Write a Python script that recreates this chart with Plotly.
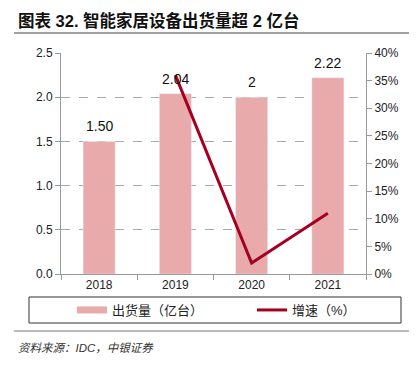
import plotly.graph_objects as go

years = ["2018", "2019", "2020", "2021"]
shipments = [1.50, 2.04, 2.00, 2.22]
shipment_labels = ["1.50", "2.04", "2", "2.22"]
growth = [None, 0.36, 0.02, 0.11]

title_text = "图表 32. 智能家居设备出货量超 2 亿台"
source_text = "资料来源：IDC，中银证券"

BAR_COLOR = "#E8AAAA"
LINE_COLOR = "#A50021"
FONT = "Liberation Sans, Arial, Noto Sans CJK SC, sans-serif"

# page has an 8px body margin; reference coords -> paper coords
PL, PR, PT, PB = 61, 366, 53, 274
def px(X):
    return (X - PL) / (PR - PL)
def py(Y):
    return (PB - Y) / (PB - PT)

fig = go.Figure()
fig.add_trace(go.Bar(
    x=years, y=shipments, marker_color=BAR_COLOR, width=0.42,
    showlegend=False, yaxis="y"))
fig.add_trace(go.Scatter(
    x=years, y=growth, mode="lines", line=dict(color=LINE_COLOR, width=3),
    showlegend=False, yaxis="y2"))
# legend entries
fig.add_trace(go.Scatter(x=[None], y=[None], mode="lines", name="出货量（亿台）",
                         line=dict(color=BAR_COLOR, width=7), legend="legend"))
fig.add_trace(go.Scatter(x=[None], y=[None], mode="lines", name="增速（%）",
                         line=dict(color=LINE_COLOR, width=3), legend="legend2"))

leg_common = dict(orientation="h", xanchor="left", yanchor="middle",
                  font=dict(size=13, color="#222"), bgcolor="rgba(0,0,0,0)",
                  borderwidth=0)

# category index positions for the value labels
value_labels = [
    dict(x=i, y=v, xref="x", yref="y", text=lab, showarrow=False,
         xanchor="center", yanchor="bottom", yshift=5,
         font=dict(size=14, color="#111"))
    for i, (v, lab) in enumerate(zip(shipments, shipment_labels))
]

fig.update_layout(
    width=409, height=361,
    margin=dict(l=PL - 8, r=409 - (PR - 8), t=PT - 8, b=361 - (PB - 8)),
    paper_bgcolor="white", plot_bgcolor="white",
    font=dict(family=FONT, size=12, color="#222"),
    xaxis=dict(type="category", range=[-0.5, len(years) - 0.5], autorange=False,
               showline=True, linecolor="#999", linewidth=1,
               ticks="outside", tickson="boundaries", ticklen=5, tickcolor="#999",
               tickfont=dict(size=12, color="#222"), showgrid=False),
    yaxis=dict(range=[0, 2.5], dtick=0.5, tickformat=".1f", showline=True,
               linecolor="#999", ticks="outside", ticklen=5, tickcolor="#999",
               showgrid=True, gridcolor="#aaa", griddash="dash", gridwidth=1,
               zeroline=False, tickfont=dict(size=12, color="#222")),
    yaxis2=dict(range=[0, 0.4], dtick=0.05, tickformat=".0%", overlaying="y",
                side="right", showline=True, linecolor="#999", ticks="outside",
                ticklen=5, tickcolor="#999", showgrid=False, zeroline=False,
                tickfont=dict(size=12, color="#222")),
    legend=dict(x=px(72), y=py(310), **leg_common),
    legend2=dict(x=px(252), y=py(310), **leg_common),
    shapes=[
        dict(type="rect", xref="paper", yref="paper",
             x0=px(29), x1=px(401), y0=py(297), y1=py(323),
             line=dict(color="#333", width=1)),
        dict(type="line", xref="paper", yref="paper",
             x0=px(14), x1=px(417), y0=py(33), y1=py(33),
             line=dict(color="#444", width=1)),
        dict(type="line", xref="paper", yref="paper",
             x0=px(14), x1=px(417), y0=py(331), y1=py(331),
             line=dict(color="#777", width=1)),
    ],
    annotations=value_labels + [
        dict(text="<b>" + title_text + "</b>", xref="paper", yref="paper",
             x=px(16), y=py(20), xanchor="left", yanchor="middle",
             showarrow=False, font=dict(size=16.5, color="#111")),
        dict(text="<i>" + source_text + "</i>", xref="paper", yref="paper",
             x=px(16), y=py(348), xanchor="left", yanchor="middle",
             showarrow=False, font=dict(size=11.5, color="#333")),
    ],
)

fig.write_html("out.html")
